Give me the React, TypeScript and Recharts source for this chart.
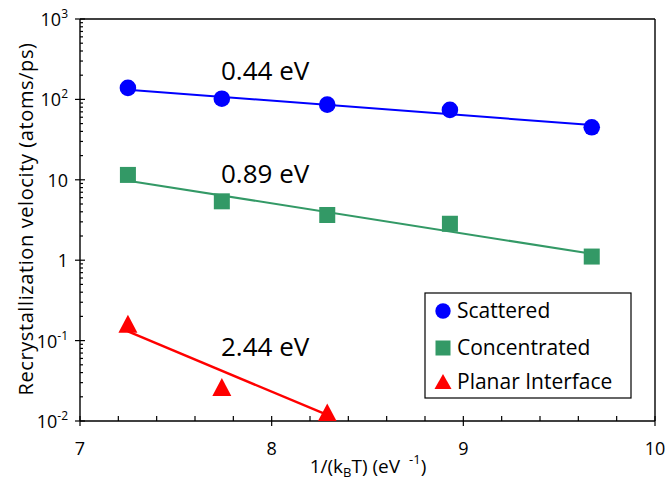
import { ComposedChart, Scatter, XAxis, YAxis, ReferenceLine } from "recharts";

document.body.style.margin = "0";

// 1/(kB T) for T = 1600 ... 1200 K
const invKT = [7.25, 7.74, 8.29, 8.93, 9.67];
const scattered = [139, 102, 86, 74, 45];
const concentrated = [11.5, 5.4, 3.65, 2.84, 1.11];
const planarX = [7.25, 7.74, 8.29];
const planar = [0.162, 0.0264, 0.0128];

// Arrhenius fit lines, end points
const fitX = [7.25, 9.67];
const scatteredFit = [132, 48];
const concentratedFit = [9.75, 1.2];
const planarFitX = [7.25, 8.29];
const planarFit = [0.13, 0.0119];

const seriesNames = ["Scattered", "Concentrated", "Planar Interface"];
const energies = ["0.44 eV", "0.89 eV", "2.44 eV"];

const xMajor = [7, 8, 9, 10];
const xLabels = ["7", "8", "9", "10"];
const xMinor = [7.2, 7.4, 7.6, 7.8, 8.2, 8.4, 8.6, 8.8, 9.2, 9.4, 9.6, 9.8];
const yMajor = [0.01, 0.1, 1, 10, 100, 1000];
const yLabels = [
  ["10", "-2"],
  ["10", "-1"],
  ["1", ""],
  ["10", ""],
  ["10", "2"],
  ["10", "3"],
];

const BLUE = "#0000ff";
const GREEN = "#339966";
const RED = "#ff0000";
const FONT = "'Open Sans', sans-serif";

const toPts = (xs: number[], ys: number[]) => xs.map((x, i) => ({ x, y: ys[i] }));

const yMinor: number[] = [];
yMajor.slice(0, -1).forEach((d) => {
  for (let m = 2; m <= 9; m++) yMinor.push(d * m);
});
const xTicks = [...xMajor, ...xMinor].sort((a, b) => a - b);
const yTicks = [...yMajor, ...yMinor].sort((a, b) => a - b);

const findIdx = (arr: number[], v: number) =>
  arr.findIndex((a) => Math.abs(a - v) / a < 1e-6);

const XTick = (props: any) => {
  const { x, y, payload } = props;
  const i = findIdx(xMajor, payload.value);
  const major = i >= 0;
  return (
    <g>
      <line x1={x} x2={x} y1={y - 5} y2={major ? y + 5 : y} stroke="#000" strokeWidth={1.2} />
      {major && (
        <text x={x} y={y + 34} textAnchor="middle" fontFamily={FONT} fontSize={18} fill="#000">
          {xLabels[i]}
        </text>
      )}
    </g>
  );
};

const YTick = (props: any) => {
  const { x, y, payload } = props;
  const i = findIdx(yMajor, payload.value);
  const major = i >= 0;
  return (
    <g>
      <line x1={major ? x - 5 : x} x2={x + (major ? 5 : 3)} y1={y} y2={y} stroke="#000" strokeWidth={1.2} />
      {major && (
        <text x={x - 12} y={y + 7} textAnchor="end" fontFamily={FONT} fontSize={18} fill="#000">
          {yLabels[i][0]}
          {yLabels[i][1] && (
            <tspan fontSize={12} dy={-8}>
              {yLabels[i][1]}
            </tspan>
          )}
        </text>
      )}
    </g>
  );
};

const Circle = (p: any) => <circle cx={p.cx} cy={p.cy} r={8.3} fill={BLUE} />;
const Square = (p: any) => <rect x={p.cx - 8} y={p.cy - 8} width={16} height={16} fill={GREEN} />;
const Triangle = (p: any) => (
  <polygon points={`${p.cx},${p.cy - 9} ${p.cx + 9.5},${p.cy + 9} ${p.cx - 9.5},${p.cy + 9}`} fill={RED} />
);
const NoDot = () => <g />;

const App = () => {
  return (
    <div style={{ position: "relative", width: 665, height: 482, background: "#fff" }}>
      <ComposedChart width={665} height={482} margin={{ top: 19, right: 10, bottom: 0, left: 0 }}>
        <XAxis
          dataKey="x"
          type="number"
          domain={[7, 10]}
          ticks={xTicks}
          interval={0}
          height={61}
          tickSize={0}
          tickMargin={0}
          tickLine={false}
          axisLine={{ stroke: "#000", strokeWidth: 1.4 }}
          tick={<XTick />}
        />
        <YAxis
          dataKey="y"
          type="number"
          scale="log"
          domain={[0.01, 1000]}
          allowDataOverflow
          ticks={yTicks}
          interval={0}
          width={80}
          tickSize={0}
          tickMargin={0}
          tickLine={false}
          axisLine={{ stroke: "#000", strokeWidth: 1.4 }}
          tick={<YTick />}
        />
        <ReferenceLine y={1000} stroke="#000" strokeWidth={1.4} />
        <ReferenceLine x={10} stroke="#000" strokeWidth={1.4} />

        <Scatter data={toPts(fitX, scatteredFit)} line={{ stroke: BLUE, strokeWidth: 2 }} shape={<NoDot />} isAnimationActive={false} />
        <Scatter data={toPts(fitX, concentratedFit)} line={{ stroke: GREEN, strokeWidth: 2 }} shape={<NoDot />} isAnimationActive={false} />
        <Scatter data={toPts(planarFitX, planarFit)} line={{ stroke: RED, strokeWidth: 2.4 }} shape={<NoDot />} isAnimationActive={false} />

        <Scatter name={seriesNames[0]} data={toPts(invKT, scattered)} shape={<Circle />} isAnimationActive={false} />
        <Scatter name={seriesNames[1]} data={toPts(invKT, concentrated)} shape={<Square />} isAnimationActive={false} />
        <Scatter name={seriesNames[2]} data={toPts(planarX, planar)} shape={<Triangle />} isAnimationActive={false} />
      </ComposedChart>

      <svg
        width={665}
        height={482}
        style={{ position: "absolute", left: 0, top: 0, pointerEvents: "none" }}
        fontFamily={FONT}
      >
        {/* activation energies */}
        <text x={221} y={80} fontSize={26}>{energies[0]}</text>
        <text x={221} y={183} fontSize={26}>{energies[1]}</text>
        <text x={221} y={356} fontSize={26}>{energies[2]}</text>

        {/* axis titles */}
        <text
          transform="translate(33,219) rotate(-90)"
          textAnchor="middle"
          fontSize={20}
          letterSpacing={0.6}
        >
          Recrystallization velocity (atoms/ps)
        </text>
        <text x={368} y={473} textAnchor="middle" fontSize={19}>
          1/(k<tspan fontSize={13} dy={4}>B</tspan>
          <tspan dy={-4}>T) (eV</tspan>
          <tspan fontSize={13} dx={9} dy={-9}>-1</tspan>
          <tspan dy={9}>)</tspan>
        </text>

        {/* legend */}
        <rect x={425} y={293} width={206} height={105} fill="#fff" stroke="#000" strokeWidth={1.2} />
        <circle cx={443} cy={311} r={7.7} fill={BLUE} />
        <rect x={435.5} y={340.5} width={15} height={15} fill={GREEN} />
        <polygon points="443,374 451.5,389 434.5,389" fill={RED} />
        <text x={457} y={318} fontSize={21}>{seriesNames[0]}</text>
        <text x={457} y={355} fontSize={21}>{seriesNames[1]}</text>
        <text x={457} y={389} fontSize={21}>{seriesNames[2]}</text>
      </svg>
    </div>
  );
};

export default App;
